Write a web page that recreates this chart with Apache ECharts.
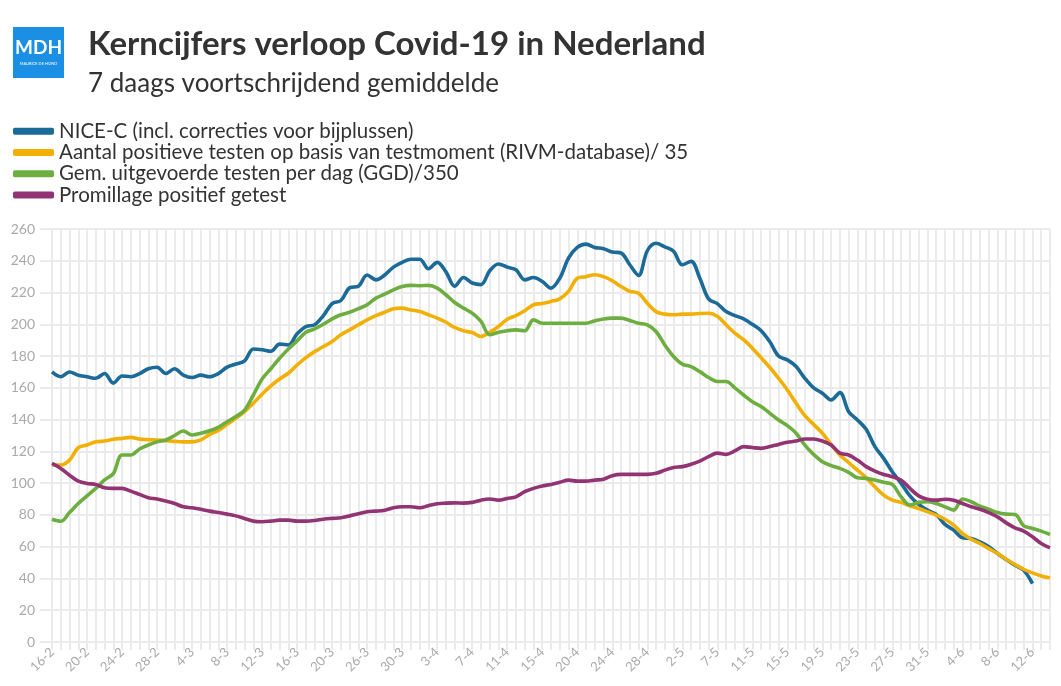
<!DOCTYPE html>
<html>
<head>
<meta charset="utf-8">
<script src="https://cdn.jsdelivr.net/npm/echarts@6/dist/echarts.min.js"></script>
<style>
html,body{margin:0;padding:0;background:#fff;}
#c{width:1061px;height:686px;}
</style>
</head>
<body>
<div id="c"></div>
<script>
var categories = [
'16-2','17-2','18-2','19-2','20-2','21-2','22-2','23-2','24-2','25-2','26-2','27-2','28-2',
'1-3','2-3','3-3','4-3','5-3','6-3','7-3','8-3','9-3','10-3','11-3','12-3','13-3','14-3','15-3','16-3','17-3','18-3','19-3','20-3',
'22-3','23-3','24-3','26-3','27-3','28-3','29-3','30-3','31-3',
'1-4','2-4','3-4','4-4','5-4','6-4','7-4','8-4','9-4','10-4','11-4','12-4','13-4','14-4','15-4','16-4','17-4','19-4',
'20-4','21-4','22-4','23-4','24-4','25-4','26-4','27-4','28-4','29-4','30-4',
'1-5','2-5','3-5','4-5','6-5','7-5','8-5','9-5','10-5','11-5','12-5','13-5','14-5','15-5','16-5','17-5','18-5','19-5','20-5',
'21-5','22-5','23-5','24-5','25-5','26-5','27-5','28-5','29-5','30-5','31-5',
'1-6','2-6','3-6','4-6','5-6','6-6','7-6','8-6','9-6','10-6','11-6','12-6','13-6','14-6'
];

var seriesNames = [
'NICE-C (incl. correcties voor bijplussen)',
'Aantal positieve testen op basis van testmoment (RIVM-database)/ 35',
'Gem. uitgevoerde testen per dag (GGD)/350',
'Promillage positief getest'
];

var niceC = [170,167,170,168,167,166,169,163,167.5,167,169,172,173,169,172,168,166.5,168,167,169,173,175,177,184.5,184,183,187.5,187,194,198.6,199.7,205.5,213,215,223,224,231,228,231,236,239,241,241,235,239,233,224,229.5,226,225,233.7,238,236,234.3,228,229.5,227,222.8,229,241.7,248.4,250.5,248.4,247.6,245.5,244.9,237.5,230.8,246.3,251,248.8,246,237.5,239.6,229,216,213,208,205.5,203.4,200,196,189,180,177.6,173.4,166,160,156.6,152.4,157,145,139.8,133.9,123,115.6,107,99.8,92,86.6,83,80.3,74,70.4,65.6,65.2,63,60,55.7,52,48.3,45.2,36.8];

var positief = [111.4,111.4,114.5,122.3,124,126,126.5,127.6,128.2,128.8,127.7,127.4,127.2,126.7,126.3,126,126,127.2,130.7,133.2,137,140.8,145,150.3,156,161.2,165.6,169.2,174.4,179,182.8,186,189.2,193.4,196.5,199.7,202.8,205.5,207.6,209.8,210.2,209,208,206,203.9,201.3,198,195.9,194.8,192.3,195,198.6,203.2,205.5,208.5,212.3,213.1,214.4,216,220.7,229,230,231.2,230,227.4,223.8,220.7,219.6,213.3,208,206.4,206,206.4,206.4,206.8,207,205,199.7,194.4,190.3,185,179,172.8,166,158.7,150.3,142.5,137,131.4,124.4,117.7,113,108.2,103.4,97.7,92.5,89.3,87.9,85.8,84,82,79.9,77.3,73.6,68.3,64.7,62,58.8,55.7,52.1,48.8,45.8,43.5,41.6,40.4];

var testen = [77.3,76,81.5,87.2,92,96.7,102,106,117.7,117.7,121.5,124,126,127.2,130,132.8,130.3,131.4,133,135.1,138.7,141.9,146,155.5,165.6,172,178.6,184.5,189.6,195,197.1,200,203.4,206,207.6,209.8,212.3,216.5,219,221.7,223.8,224.5,224.3,224.5,222.8,218.6,213.7,210.2,207,201.8,193.4,195,196,196.5,195.9,202.8,200.7,200.7,200.7,200.7,200.7,200.7,202.2,203.4,203.9,203.9,202.4,200.7,199.7,195.5,187,179.7,174.9,173.4,170.2,166.5,164,164,160,155.5,151.3,148.2,144,139.8,136.2,131.4,124,118.1,113.5,111,109.3,106.8,103.4,103,102,100.5,99.2,91.4,86.2,87.9,88.3,87.2,85.1,83,90,88.3,85.5,83.6,81.5,80.5,80.3,73.1,71.5,69.8,67.7];

var promillage = [112.4,109.3,105,101.3,99.8,99.2,97.1,96.7,96.7,95,92.9,90.8,90,88.7,87.2,85.1,84.5,83.6,82.4,81.5,80.5,79.4,77.8,76.1,75.7,76.1,76.7,76.7,76.1,76.1,76.5,77.3,77.8,78.2,79.4,80.7,82,82.4,83,84.5,85.1,85.1,84.5,85.8,87,87.4,87.6,87.4,87.9,89.3,90,89.3,90.4,91.4,94.6,96.7,98.2,99.2,100.5,101.9,101.3,101.3,101.9,102.5,104.7,105.5,105.5,105.5,105.5,106.2,108.2,109.9,110.4,111.9,113.9,116.7,118.9,118.1,120.3,123,122.4,121.9,123,124.4,125.7,126.5,127.8,127.8,126.5,124,118.9,117.7,114.5,110.4,107.6,105.5,104,101.9,96.7,92,89.9,89.3,89.9,89.3,87.2,85.1,83.6,81.5,78.8,75,71.9,69.8,66.2,62,59.3];

var colors = ['#1c6a98','#f2b005','#6eae41','#923473'];
var FONT = 'Lato, "Open Sans", sans-serif';

var chart = echarts.init(document.getElementById('c'), null, {renderer:'canvas'});

function mkSeries(name, data, color){
  return {
    name: name, type: 'line', data: data, smooth: 0.35,
    showSymbol: false, symbol: 'none',
    lineStyle: {color: color, width: 3.6},
    itemStyle: {color: color},
    animation: false
  };
}

chart.setOption({
  animation: false,
  backgroundColor: '#fff',
  title: {
    text: 'Kerncijfers verloop Covid-19 in Nederland',
    subtext: '7 daags voortschrijdend gemiddelde',
    left: 83, top: 23, itemGap: 10,
    textStyle: {fontFamily: FONT, fontSize: 33, fontWeight: 'bold', color: '#333'},
    subtextStyle: {fontFamily: FONT, fontSize: 26, color: '#333'}
  },
  graphic: [
    {type:'rect', left: 13, top: 27, shape:{width:51, height:51}, style:{fill:'#1b8fe4'}},
    {type:'text', x: 38.5, y: 38, style:{text:'MDH', fill:'#fff', font:'bold 19px ' + FONT, textAlign:'center'}},
    {type:'text', x: 38.5, y: 62, style:{text:'MAURICE DE HOND', fill:'#fff', font:'4px ' + FONT, textAlign:'center'}}
  ],
  legend: {
    orient: 'vertical', left: 13, top: 120.5, padding: 0,
    icon: 'roundRect', itemWidth: 41, itemHeight: 7, itemGap: 0,
    textStyle: {fontFamily: FONT, fontSize: 20.5, color: '#333', lineHeight: 21.3, padding: [0,0,0,0]},
    data: seriesNames
  },
  grid: {left: 52, right: 11, top: 229, bottom: 44, containLabel: false},
  xAxis: {
    type: 'category', data: categories, boundaryGap: false,
    axisLine: {show: true, lineStyle: {color: '#ebebeb', width: 2}},
    axisTick: {show: true, interval: 0, length: 8, lineStyle: {color: '#ebebeb', width: 2}},
    splitLine: {show: true, interval: 0, lineStyle: {color: '#ebebeb', width: 2}},
    axisLabel: {interval: 3, rotate: 45, color: '#aaa', fontFamily: FONT, fontSize: 13, margin: 8}
  },
  yAxis: {
    type: 'value', min: 0, max: 260, interval: 20,
    axisLine: {show: false},
    axisTick: {show: true, length: 12, lineStyle: {color: '#ebebeb', width: 2}},
    splitLine: {show: true, lineStyle: {color: '#ebebeb', width: 2}},
    axisLabel: {color: '#aaa', fontFamily: FONT, fontSize: 14, margin: 17}
  },
  series: [
    mkSeries(seriesNames[0], niceC, colors[0]),
    mkSeries(seriesNames[1], positief, colors[1]),
    mkSeries(seriesNames[2], testen, colors[2]),
    mkSeries(seriesNames[3], promillage, colors[3])
  ]
});
</script>
</body>
</html>
